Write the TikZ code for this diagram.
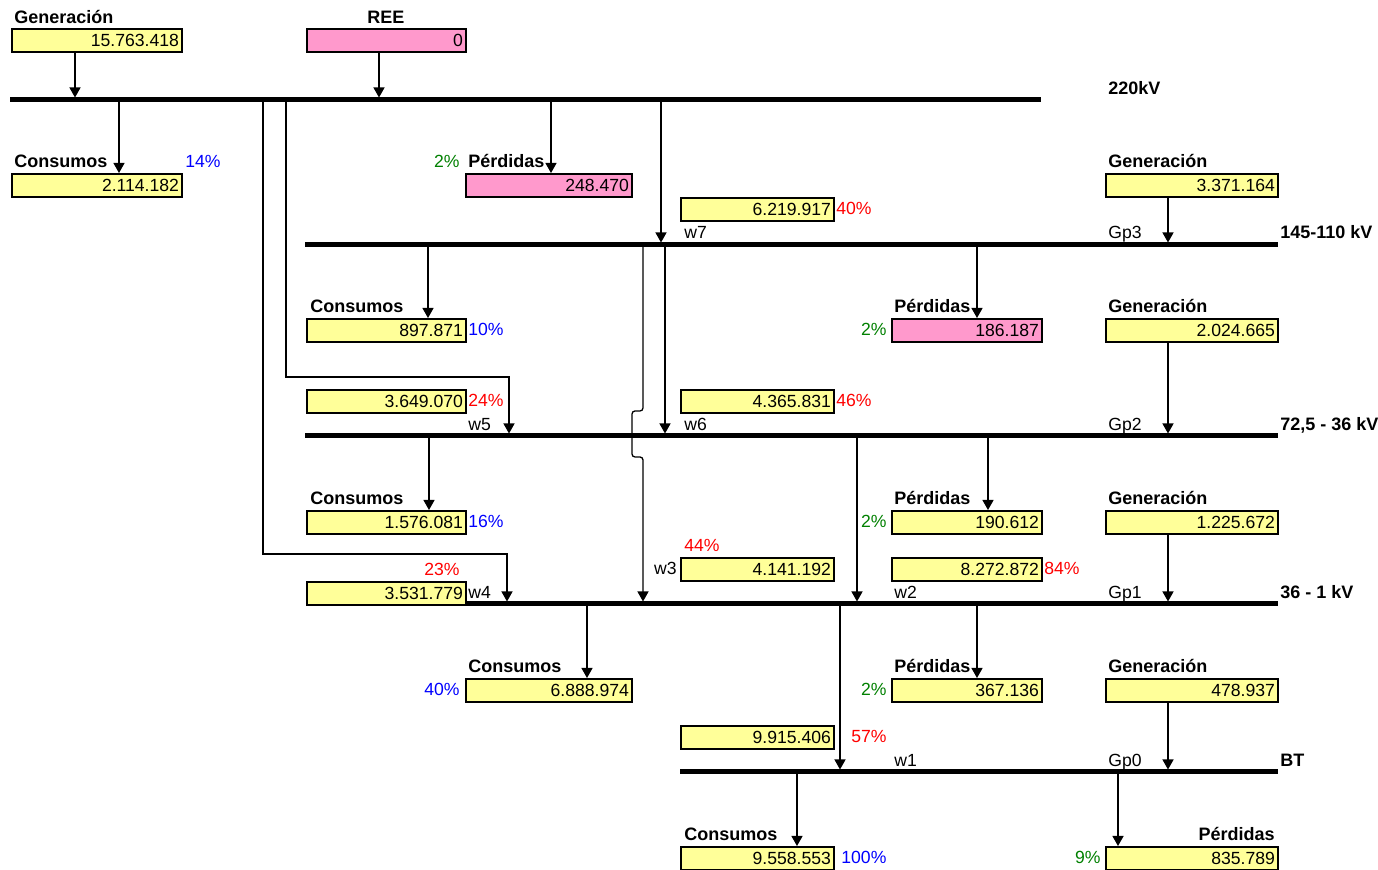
\documentclass[tikz,border=0pt]{standalone}
\usepackage{fontspec}
\setmainfont{Liberation Sans}
\usetikzlibrary{arrows.meta}
\definecolor{boxyellow}{HTML}{FFFF99}
\definecolor{boxpink}{HTML}{FF99CC}
\definecolor{pctred}{HTML}{FF0000}
\definecolor{pctblue}{HTML}{0000FF}
\definecolor{pctgreen}{HTML}{008000}

\begin{document}
\begin{tikzpicture}[x=0.5pt, y=-0.5pt, font=\fontsize{8.8}{10}\selectfont,
  >={Triangle[length=5pt,width=5.5pt]},
  val/.style={draw, line width=1pt, fill=boxyellow, anchor=north west,
    minimum height=11.5pt, inner xsep=1.5pt, inner ysep=0pt,
    text width=#1, align=right},
  loss/.style={val={#1}, fill=boxpink},
  head/.style={anchor=base west, inner sep=0pt, font=\fontsize{9}{10}\selectfont\bfseries},
  pct/.style={anchor=base west, inner sep=0pt},
  tag/.style={anchor=base west, inner sep=0pt},
  busbar/.style={line width=2.5pt},
  flow/.style={->, line width=0.65pt},
  feed/.style={flow, shorten >=1.25pt}]

\useasboundingbox (0,0) rectangle (1378,870);

\path (10,100) coordinate (b220)
      (305,245) coordinate (b145)
      (305,436) coordinate (b72)
      (465,604) coordinate (b36)
      (680,772) coordinate (bbt);

\draw[busbar] (b220) -- (1041,100);
\draw[busbar] (b145) -- (1278,245);
\draw[busbar] (b72) -- (1278,436);
\draw[busbar] (b36) -- (1278,604);
\draw[busbar] (bbt) -- (1278,772);

\path (11,28) node[val=82pt] (gen220) {15.763.418}
      (306,28) node[loss=76.5pt] (ree) {0}
      (11,173) node[val=82pt] (cons220) {2.114.182}
      (465,173) node[loss=80pt] (loss220) {248.470}
      (1105,173) node[val=83pt] (gen145) {3.371.164}
      (680,197) node[val=73.5pt] (w7box) {6.219.917}
      (306,318) node[val=76.5pt] (cons145) {897.871}
      (891,318) node[loss=72pt] (loss145) {186.187}
      (1105,318) node[val=83pt] (gen72) {2.024.665}
      (306,389) node[val=76.5pt] (w5box) {3.649.070}
      (680,389) node[val=73.5pt] (w6box) {4.365.831}
      (306,510) node[val=76.5pt] (cons72) {1.576.081}
      (891,510) node[val=72pt] (loss72) {190.612}
      (1105,510) node[val=83pt] (gen36) {1.225.672}
      (680,557) node[val=73.5pt] (w3box) {4.141.192}
      (891,557) node[val=72pt] (w2box) {8.272.872}
      (306,581) node[val=76.5pt] (w4box) {3.531.779}
      (465,678) node[val=80pt] (cons36) {6.888.974}
      (891,678) node[val=72pt] (loss36) {367.136}
      (1105,678) node[val=83pt] (genbt) {478.937}
      (680,725) node[val=73.5pt] (w1box) {9.915.406}
      (680,846) node[val=73.5pt] (consbt) {9.558.553}
      (1105,846) node[val=83pt] (lossbt) {835.789};

\path (14,24) node[head] (hgen220) {Generación}
      (386,24) node[head, anchor=base] (hree) {REE}
      (14,168) node[head] (hcons220) {Consumos}
      (468,168) node[head] (hloss220) {Pérdidas}
      (1108,168) node[head] (hgen145) {Generación}
      (310,313) node[head] (hcons145) {Consumos}
      (894,313) node[head] (hloss145) {Pérdidas}
      (1108,313) node[head] (hgen72) {Generación}
      (310,505) node[head] (hcons72) {Consumos}
      (894,505) node[head] (hloss72) {Pérdidas}
      (1108,505) node[head] (hgen36) {Generación}
      (468,673) node[head] (hcons36) {Consumos}
      (894,673) node[head] (hloss36) {Pérdidas}
      (1108,673) node[head] (hgenbt) {Generación}
      (684,841) node[head] (hconsbt) {Consumos}
      (1275,841) node[head, anchor=base east] (hlossbt) {Pérdidas};

\path (1108,95) node[head] (n220) {220kV}
      (1280,239) node[head] (n145) {145-110 kV}
      (1280,431) node[head] (n72) {72,5 - 36 kV}
      (1280,599) node[head] (n36) {36 - 1 kV}
      (1280,767) node[head] (nbt) {BT};

\path (185,168) node[pct, pctblue] (p1) {14\%}
      (460,168) node[pct, pctgreen, anchor=base east] (p2) {2\%}
      (836,215) node[pct, pctred] (p3) {40\%}
      (468,336) node[pct, pctblue] (p4) {10\%}
      (887,336) node[pct, pctgreen, anchor=base east] (p5) {2\%}
      (468,407) node[pct, pctred] (p6) {24\%}
      (836,407) node[pct, pctred] (p7) {46\%}
      (468,528) node[pct, pctblue] (p8) {16\%}
      (887,528) node[pct, pctgreen, anchor=base east] (p9) {2\%}
      (684,552) node[pct, pctred] (p10) {44\%}
      (1044,575) node[pct, pctred] (p11) {84\%}
      (460,576) node[pct, pctred, anchor=base east] (p12) {23\%}
      (460,696) node[pct, pctblue, anchor=base east] (p13) {40\%}
      (887,696) node[pct, pctgreen, anchor=base east] (p14) {2\%}
      (851,743) node[pct, pctred] (p15) {57\%}
      (841,864) node[pct, pctblue] (p16) {100\%}
      (1101,864) node[pct, pctgreen, anchor=base east] (p17) {9\%};

\path (684,239) node[tag] (tw7) {w7}
      (1108,239) node[tag] (tgp3) {Gp3}
      (468,431) node[tag] (tw5) {w5}
      (684,431) node[tag] (tw6) {w6}
      (1108,431) node[tag] (tgp2) {Gp2}
      (677,575) node[tag, anchor=base east] (tw3) {w3}
      (468,599) node[tag] (tw4) {w4}
      (894,599) node[tag] (tw2) {w2}
      (1108,599) node[tag] (tgp1) {Gp1}
      (894,767) node[tag] (tw1) {w1}
      (1108,767) node[tag] (tgp0) {Gp0};

\draw[feed] (gen220.south -| 75,0) -- (b220 -| 75,0);
\draw[feed] (ree.south -| 379,0) -- (b220 -| 379,0);
\draw[flow] (b220 -| 119,0) -- (cons220.north -| 119,0);
\draw[flow] (b220 -| 551,0) -- (loss220.north -| 551,0);
\draw[feed] (b220 -| 661,0) -- (b145 -| 661,0);
\draw[feed] (b220 -| 263,0) |- (507,554) -- (b36 -| 507,0);
\draw[feed] (b220 -| 286,0) |- (509,377) -- (b72 -| 509,0);

\draw[feed] (gen145.south -| 1168,0) -- (b145 -| 1168,0);
\draw[flow] (b145 -| 428,0) -- (cons145.north -| 428,0);
\draw[flow] (b145 -| 977,0) -- (loss145.north -| 977,0);
\draw[feed] (b145 -| 665,0) -- (b72 -| 665,0);
\draw[feed, rounded corners=1.5pt] (b145 -| 643,0) -- (643,411) -- (632,411)
  -- (632,457) -- (643,457) -- (b36 -| 643,0);

\draw[feed] (gen72.south -| 1168,0) -- (b72 -| 1168,0);
\draw[flow] (b72 -| 429,0) -- (cons72.north -| 429,0);
\draw[flow] (b72 -| 988,0) -- (loss72.north -| 988,0);
\draw[feed] (b72 -| 857,0) -- (b36 -| 857,0);

\draw[feed] (gen36.south -| 1168,0) -- (b36 -| 1168,0);
\draw[flow] (b36 -| 587,0) -- (cons36.north -| 587,0);
\draw[flow] (b36 -| 977,0) -- (loss36.north -| 977,0);
\draw[feed] (b36 -| 840,0) -- (bbt -| 840,0);

\draw[feed] (genbt.south -| 1168,0) -- (bbt -| 1168,0);
\draw[flow] (bbt -| 797,0) -- (consbt.north -| 797,0);
\draw[flow] (bbt -| 1118,0) -- (lossbt.north -| 1118,0);

\end{tikzpicture}
\end{document}
